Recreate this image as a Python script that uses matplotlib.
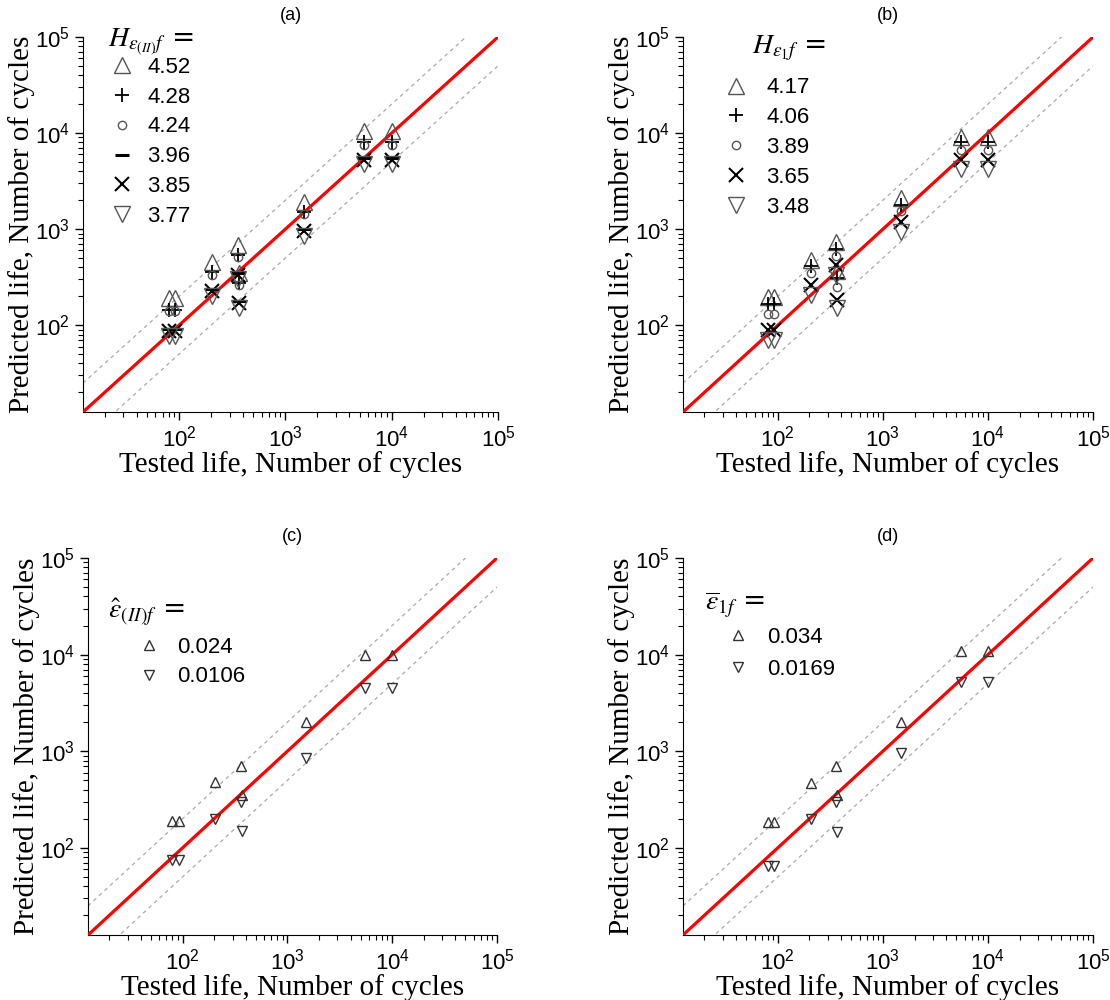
import numpy as np
import matplotlib.pyplot as plt

plt.rcParams['mathtext.fontset'] = 'stix'

# tested life of the 8 specimens
tested = [80, 92, 205, 360, 365, 1500, 5500, 10000]

# (a) H_eps(II)f
a_labels = ['4.52', '4.28', '4.24', '3.96', '3.85', '3.77']
a_vals = [
    [190, 190, 460, 690, 350, 1900, 10500, 10500],
    [145, 145, 360, 540, 275, 1500, 8100, 8100],
    [140, 140, 330, 510, 260, 1450, 7600, 7600],
    [92, 92, 240, 350, 180, 1000, 5500, 5500],
    [88, 88, 225, 330, 172, 950, 5300, 5300],
    [78, 78, 200, 300, 150, 850, 4800, 4800],
]

# (b) H_eps1f
b_labels = ['4.17', '4.06', '3.89', '3.65', '3.48']
b_vals = [
    [195, 195, 480, 730, 370, 2100, 9000, 9000],
    [165, 165, 410, 620, 310, 1800, 8000, 8000],
    [130, 130, 350, 520, 250, 1550, 6700, 6700],
    [90, 90, 260, 420, 185, 1200, 5300, 5300],
    [70, 70, 205, 330, 150, 930, 4200, 4200],
]

# (c) eps_hat(II)f
c_labels = ['0.024', '0.0106']
c_vals = [
    [190, 190, 480, 700, 350, 2000, 10000, 10000],
    [75, 75, 200, 300, 150, 850, 4500, 4500],
]

# (d) eps_bar 1f
d_labels = ['0.034', '0.0169']
d_vals = [
    [185, 185, 470, 700, 350, 2000, 10800, 10800],
    [65, 65, 200, 300, 145, 950, 5200, 5200],
]

big = [dict(marker='^', mfc='none', mec='#555555', ms=11, mew=1.0),
       dict(marker='+', color='black', ms=10, mew=1.3),
       dict(marker='o', mfc='none', mec='#555555', ms=6, mew=1.0),
       dict(marker='_', color='black', ms=10, mew=2.2),
       dict(marker='x', color='black', ms=10, mew=1.5),
       dict(marker='v', mfc='none', mec='#555555', ms=11, mew=1.0)]
big_b = [big[0], big[1], big[2], big[4], big[5]]
small = [dict(marker='^', mfc='none', mec='#333333', ms=7, mew=1.0),
         dict(marker='v', mfc='none', mec='#333333', ms=7, mew=1.0)]

lo, hi = 12.5, 1e5
line_x = np.array([lo, hi])

fig = plt.figure(figsize=(11.1, 10), dpi=100)
boxes = [[83, 37, 498, 412], [683, 37, 1093, 412],
         [88, 558, 497, 935], [683, 558, 1093, 935]]
# tag, labels, values, styles, legend title, title pos, legend anchor, text pad, row spacing
panels = [('(a)', a_labels, a_vals, big, r'$H_{\varepsilon_{(II)}f}$ =', (0.06, 0.985), (0.024, 0.989), 0.55, 0.4),
          ('(b)', b_labels, b_vals, big_b, r'$H_{\varepsilon_{1}f}$ =', (0.168, 0.97), (0.059, 0.934), 0.75, 0.4),
          ('(c)', c_labels, c_vals, small, r'$\hat{\varepsilon}_{(II)f}$ =', (0.049, 0.857), (0.079, 0.833), 0.65, 0.4),
          ('(d)', d_labels, d_vals, small, r'$\overline{\varepsilon}_{1f}$ =', (0.054, 0.875), (0.064, 0.859), 0.7, 0.5)]

for (l, t, r, b), (tag, labels, vals, styles, title, tpos, anchor, pad, sp) in zip(boxes, panels):
    ax = fig.add_axes([l / 1110, 1 - b / 1000, (r - l) / 1110, (b - t) / 1000])
    ax.plot(line_x, line_x, color='red', lw=2.3, zorder=3)
    ax.plot(line_x, line_x * 2, color='#aaaaaa', lw=0.9, ls='--', dashes=(3, 3))
    ax.plot(line_x, line_x / 2, color='#aaaaaa', lw=0.9, ls='--', dashes=(3, 3))
    for lab, v, st in zip(labels, vals, styles):
        ax.plot(tested, v, ls='none', label=lab, zorder=4, **st)
    ax.set_xscale('log')
    ax.set_yscale('log')
    ax.set_xlim(lo, hi)
    ax.set_ylim(lo, hi)
    ax.set_xticks([1e2, 1e3, 1e4, 1e5])
    ax.set_yticks([1e2, 1e3, 1e4, 1e5])
    ax.spines['top'].set_visible(False)
    ax.spines['right'].set_visible(False)
    ax.tick_params(which='major', length=6, width=1, labelsize=16, direction='out')
    ax.tick_params(which='minor', length=3.5, width=0.8, direction='out')
    for lab in ax.get_xticklabels() + ax.get_yticklabels():
        lab.set_family('Liberation Sans')
    ax.set_xlabel('Tested life, Number of cycles', family='Liberation Serif',
                  fontsize=21, labelpad=0)
    ax.set_ylabel('Predicted life, Number of cycles', family='Liberation Serif',
                  fontsize=21, labelpad=0)
    ax.set_title(tag, family='Liberation Sans', fontsize=13, pad=12)
    ax.text(tpos[0], tpos[1], title, transform=ax.transAxes, fontsize=20,
            ha='left', va='center')
    ax.legend(loc='upper left', bbox_to_anchor=anchor, frameon=False,
              prop={'family': 'Liberation Sans', 'size': 16},
              handletextpad=pad, labelspacing=sp, handlelength=1.2,
              borderpad=0.2)

fig.savefig('out.png', dpi=100)
